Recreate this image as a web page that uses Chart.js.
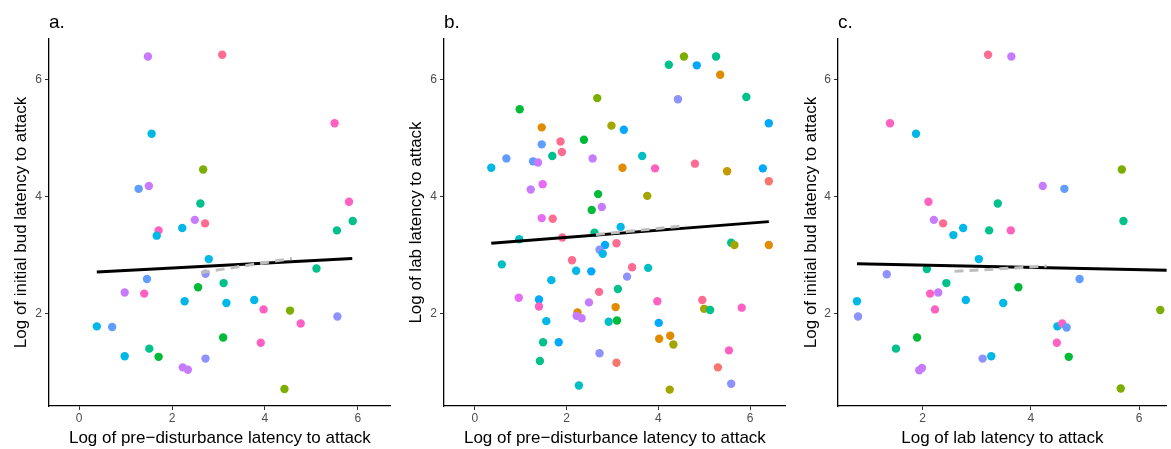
<!DOCTYPE html>
<html>
<head>
<meta charset="utf-8">
<script src="https://cdn.jsdelivr.net/npm/chart.js@4.4.1/dist/chart.umd.min.js"></script>
<style>
    body { margin: 0; background: #fff; }
    #wrap { position: relative; width: 1171px; height: 449px; overflow: hidden; }
    canvas { position: absolute; top: 0; }
</style>
</head>
<body>
<div id="wrap">
    <canvas id="chartA" width="395" height="449" style="left:0px"></canvas>
    <canvas id="chartB" width="395" height="449" style="left:395px"></canvas>
    <canvas id="chartC" width="381" height="449" style="left:790px"></canvas>
</div>
<script>
// Datos leidos del grafico
// a. pre-disturbance vs initial bud
const aX = [1.48, 3.08, 5.50, 1.56, 2.67, 1.28, 1.50, 2.61, 5.81, 5.89, 2.49, 2.71, 5.55, 1.71, 1.67, 2.22, 2.79, 5.11, 2.72, 1.46, 0.98,
            1.40, 2.56, 3.11, 2.27, 3.17, 3.77, 3.97, 4.54, 5.56, 4.77, 0.38, 0.71, 3.10, 3.91, 1.51, 0.98, 1.71, 2.72, 2.23, 2.34, 4.42];
const aY = [6.39, 6.42, 5.25, 5.07, 4.46, 4.13, 4.18, 3.88, 3.91, 3.58, 3.60, 3.54, 3.42, 3.42, 3.33, 3.46, 2.93, 2.77, 2.68, 2.59, 2.36,
            2.34, 2.45, 2.52, 2.21, 2.18, 2.23, 2.07, 2.05, 1.95, 1.83, 1.78, 1.77, 1.59, 1.50, 1.40, 1.27, 1.26, 1.23, 1.08, 1.04, 0.71];
const aCol = ['pu', 'pr', 'mg', 'cy', 'ol', 'bl', 'pu', 'gt', 'mg', 'gt', 'pu', 'pr', 'gt', 'mg', 'cy', 'cy', 'cy', 'gt', 'lv', 'bl', 'pu',
              'mg', 'gr', 'gt', 'cy', 'cy', 'cy', 'mg', 'ol', 'lv', 'mg', 'cy', 'bl', 'gr', 'mg', 'gt', 'cy', 'gr', 'lv', 'pu', 'pu', 'ol'];
const aFitX = [0.38, 5.88];
const aFitY = [2.71, 2.94];
const aDashX = [2.62, 4.58];
const aDashY = [2.70, 2.94];

// b. pre-disturbance vs lab
const bX = [4.56, 5.26, 4.23, 4.84, 5.35, 2.67, 4.43, 5.92, 0.98, 1.46, 2.98, 3.25, 6.41, 1.87, 1.90, 1.46, 2.38, 1.69, 3.65, 0.36,
            0.69, 1.27, 1.38, 2.57, 3.22, 3.93, 4.80, 5.50, 6.28, 6.41, 1.22, 1.48, 2.69, 3.76, 2.55, 2.77, 1.46, 1.70, 3.18, 0.97,
            1.91, 2.61, 2.84, 3.09, 2.72, 2.79, 5.59, 5.66, 6.41, 0.59, 2.12, 2.21, 2.54, 3.43, 3.78, 3.32, 1.67, 3.12, 0.96, 1.40,
            1.40, 2.71, 2.49, 2.24, 2.22, 2.33, 3.07, 3.98, 4.96, 5.00, 5.13, 5.82, 1.56, 2.92, 3.10, 4.01, 1.49, 1.83, 4.02, 4.26,
            4.33, 2.72, 5.54, 1.42, 3.09, 5.30, 2.27, 5.59, 4.25];
const bY = [6.39, 6.39, 6.25, 6.24, 6.08, 5.68, 5.66, 5.70, 5.49, 5.18, 5.21, 5.14, 5.25, 4.94, 4.76, 4.89, 4.97, 4.69, 4.69, 4.49,
            4.65, 4.60, 4.58, 4.65, 4.49, 4.48, 4.56, 4.43, 4.48, 4.26, 4.12, 4.21, 4.04, 4.01, 3.77, 3.82, 3.63, 3.62, 3.48, 3.27,
            3.30, 3.38, 3.17, 3.20, 3.09, 3.02, 3.21, 3.17, 3.17, 2.84, 2.91, 2.73, 2.72, 2.79, 2.78, 2.63, 2.57, 2.42, 2.27, 2.24,
            2.12, 2.37, 2.19, 2.02, 1.96, 1.92, 2.11, 2.21, 2.23, 2.08, 2.06, 2.10, 1.87, 1.86, 1.88, 1.84, 1.51, 1.51, 1.57, 1.62,
            1.47, 1.32, 1.37, 1.19, 1.16, 1.08, 0.77, 0.80, 0.70];
const bCol = ['ol', 'gt', 'gt', 'sk', 'or', 'ol', 'lv', 'gt', 'gr', 'or', 'oy', 'sk', 'sk', 'pr', 'pr', 'bl', 'gr', 'gt', 'te', 'cy',
              'bl', 'bl', 'pu', 'pu', 'or', 'mg', 'pr', 'gd', 'sk', 'rd', 'pu', 'vi', 'gr', 'oy', 'gr', 'pu', 'vi', 'pr', 'cy', 'te',
              'pr', 'gt', 'sk', 'pr', 'lv', 'cy', 'gt', 'oy', 'or', 'te', 'pr', 'cy', 'sk', 'pr', 'te', 'lv', 'cy', 'gt', 'vi', 'sk',
              'mg', 'pr', 'pu', 'or', 'pu', 'pu', 'or', 'mg', 'pr', 'oy', 'gt', 'mg', 'cy', 'te', 'gr', 'sk', 'gt', 'sk', 'or', 'or',
              'oy', 'lv', 'mg', 'gt', 'rd', 'rd', 'te', 'lv', 'oy'];
const bFitX = [0.36, 6.41];
const bFitY = [3.20, 3.57];
const bDashX = [2.64, 4.60];
const bDashY = [3.35, 3.50];

// c. lab vs initial bud
const cX = [3.21, 3.64, 1.40, 1.88, 5.68, 4.22, 4.62, 2.11, 3.39, 2.21, 2.38, 5.71, 2.57, 2.75, 3.23, 3.63, 3.04, 2.08, 1.34, 4.90, 2.44,
            3.77, 2.14, 2.29, 0.79, 2.80, 3.49, 2.23, 0.81, 6.39, 4.49, 4.58, 4.66, 1.90, 4.48, 1.51, 3.11, 3.27, 4.70, 1.94, 1.99, 5.66];
const cY = [6.42, 6.39, 5.25, 5.07, 4.46, 4.18, 4.13, 3.91, 3.88, 3.60, 3.54, 3.58, 3.34, 3.46, 3.42, 3.42, 2.93, 2.76, 2.67, 2.59, 2.52,
            2.45, 2.34, 2.36, 2.21, 2.23, 2.18, 2.07, 1.95, 2.06, 1.78, 1.83, 1.76, 1.59, 1.50, 1.40, 1.23, 1.27, 1.26, 1.03, 1.07, 0.72];
const cCol = ['pr', 'pu', 'mg', 'cy', 'ol', 'pu', 'bl', 'mg', 'gt', 'pu', 'pr', 'gt', 'cy', 'cy', 'gt', 'mg', 'cy', 'gt', 'lv', 'bl', 'gt',
              'gr', 'mg', 'pu', 'cy', 'cy', 'cy', 'mg', 'lv', 'ol', 'cy', 'mg', 'bl', 'gr', 'mg', 'gt', 'lv', 'cy', 'gr', 'pu', 'pu', 'ol'];
const cFitX = [0.79, 6.51];
const cFitY = [2.85, 2.74];
const cDashX = [2.59, 4.29];
const cDashY = [2.72, 2.81];

const xTicksAB = [0, 2, 4, 6];
const xTicksC = [2, 4, 6];
const yTicks = [2, 4, 6];

// colores por individuo (paleta hue de ggplot)
const palette = {
    rd: '#F8766D', or: '#E08B00', gd: '#C49A00', oy: '#A3A500', ol: '#7CAE00', gr: '#00BA38',
    gt: '#00C08B', te: '#00BFC4', cy: '#00B8E7', sk: '#00A9FF', bl: '#619CFF', lv: '#8F91FF',
    pu: '#C77CFF', vi: '#E76BF3', mg: '#FF61C3', pr: '#FF6C91'
};

const FONT = "'Liberation Sans', Arial, sans-serif";

const panelTag = {
    id: 'panelTag',
    afterDraw(chart, args, opts) {
        const ctx = chart.ctx;
        ctx.save();
        ctx.font = '19px ' + FONT;
        ctx.fillStyle = '#000';
        ctx.textBaseline = 'alphabetic';
        ctx.fillText(opts.text, chart.chartArea.left, 28);
        ctx.restore();
    }
};

function toPoints(xs, ys) {
    return xs.map((x, i) => ({ x: x, y: ys[i] }));
}

function renderPanel(id, cfg) {
    const ctx = document.getElementById(id);
    return new Chart(ctx, {
        type: 'scatter',
        data: {
            datasets: [
                {
                    data: toPoints(cfg.dashX, cfg.dashY),
                    showLine: true,
                    borderColor: '#BDBDBD',
                    borderWidth: 3,
                    borderDash: [9, 6],
                    pointRadius: 0
                },
                {
                    data: toPoints(cfg.fitX, cfg.fitY),
                    showLine: true,
                    borderColor: '#000000',
                    borderWidth: 3,
                    pointRadius: 0
                },
                {
                    data: toPoints(cfg.xs, cfg.ys),
                    pointRadius: 4.2,
                    pointBorderWidth: 0,
                    pointBackgroundColor: cfg.cols.map(c => palette[c]),
                    pointBorderColor: cfg.cols.map(c => palette[c])
                }
            ]
        },
        options: {
            responsive: false,
            animation: false,
            events: [],
            layout: { padding: { top: 39, right: cfg.padRight, left: 0, bottom: 0 } },
            plugins: {
                legend: { display: false },
                tooltip: { enabled: false },
                panelTag: { text: cfg.tag }
            },
            scales: {
                x: {
                    type: 'linear',
                    min: cfg.xMin,
                    max: cfg.xMax,
                    afterBuildTicks: axis => { axis.ticks = cfg.xTicks.map(v => ({ value: v })); },
                    afterFit: axis => { axis.height = 43; },
                    border: { display: true, color: '#000', width: 1.3 },
                    grid: { drawOnChartArea: false, drawTicks: true, tickLength: 4, color: '#333' },
                    ticks: { color: '#4D4D4D', font: { family: FONT, size: 12 }, padding: 1, maxRotation: 0 },
                    title: {
                        display: true,
                        text: cfg.xTitle,
                        color: '#000',
                        font: { family: FONT, size: 17 },
                        padding: { top: 0, bottom: 0 }
                    }
                },
                y: {
                    type: 'linear',
                    min: 0.42,
                    max: 6.69,
                    afterBuildTicks: axis => { axis.ticks = yTicks.map(v => ({ value: v })); },
                    afterFit: axis => { axis.width = cfg.yWidth; },
                    border: { display: true, color: '#000', width: 1.3 },
                    grid: { drawOnChartArea: false, drawTicks: true, tickLength: 4, color: '#333' },
                    ticks: { color: '#4D4D4D', font: { family: FONT, size: 12 }, padding: 3 },
                    title: {
                        display: true,
                        text: cfg.yTitle,
                        color: '#000',
                        font: { family: FONT, size: 17 },
                        padding: { top: 11, bottom: 0 }
                    }
                }
            }
        },
        plugins: [panelTag]
    });
}

document.addEventListener('DOMContentLoaded', () => {
    renderPanel('chartA', {
        tag: 'a.', xs: aX, ys: aY, cols: aCol,
        fitX: aFitX, fitY: aFitY, dashX: aDashX, dashY: aDashY,
        xMin: -0.65, xMax: 6.71, xTicks: xTicksAB, yWidth: 49, padRight: 4,
        xTitle: 'Log of pre\u2212disturbance latency to attack',
        yTitle: 'Log of initial bud latency to attack'
    });
    renderPanel('chartB', {
        tag: 'b.', xs: bX, ys: bY, cols: bCol,
        fitX: bFitX, fitY: bFitY, dashX: bDashX, dashY: bDashY,
        xMin: -0.67, xMax: 6.78, xTicks: xTicksAB, yWidth: 49, padRight: 3,
        xTitle: 'Log of pre\u2212disturbance latency to attack',
        yTitle: 'Log of lab latency to attack'
    });
    renderPanel('chartC', {
        tag: 'c.', xs: cX, ys: cY, cols: cCol,
        fitX: cFitX, fitY: cFitY, dashX: cDashX, dashY: cDashY,
        xMin: 0.44, xMax: 6.51, xTicks: xTicksC, yWidth: 48, padRight: 0,
        xTitle: 'Log of lab latency to attack',
        yTitle: 'Log of initial bud latency to attack'
    });
});
</script>
</body>
</html>
